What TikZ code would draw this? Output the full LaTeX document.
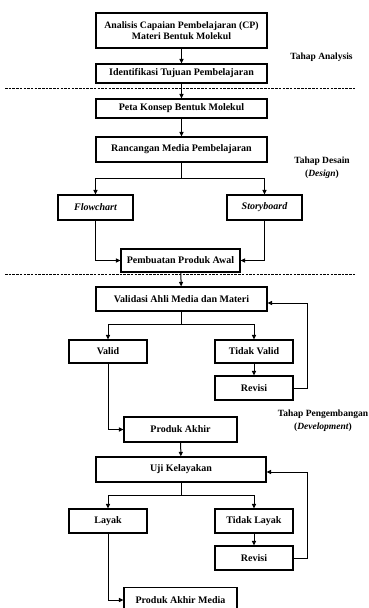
\documentclass[tikz,border=0pt]{standalone}
\usepackage{fontspec}
\setmainfont{Liberation Serif}
\usetikzlibrary{arrows.meta,calc}
\begin{document}
\begin{tikzpicture}[x=1pt,y=-1pt,
  box/.style={draw,line width=1.1pt,inner sep=0pt,align=center,
    font=\fontsize{10}{11}\selectfont\bfseries},
  conn/.style={line width=1pt,-{Triangle[length=4.5pt,width=4pt]}},
  plain/.style={line width=1pt},
  sep/.style={line width=0.8pt,dash pattern=on 2.5pt off 1.2pt},
  lbl/.style={align=center,font=\fontsize{9.5}{13}\selectfont\bfseries}]
\useasboundingbox (0,0) rectangle (369,608);
\clip (0,0) rectangle (369,608);
\fill[white] (0,0) rectangle (369,608);
% boxes
\node[box,minimum width=171pt,minimum height=35pt,font=\fontsize{9.8}{11}\selectfont\bfseries] (a1) at (181.5,30.5) {Analisis Capaian Pembelajaran (CP)\\Materi Bentuk Molekul};
\node[box,minimum width=171pt,minimum height=19pt] (a2) at (181.5,73.5) {Identifikasi Tujuan Pembelajaran};
\node[box,minimum width=171pt,minimum height=19pt] (b1) at (181.5,108.5) {Peta Konsep Bentuk Molekul};
\node[box,minimum width=171pt,minimum height=25pt] (b2) at (181.5,149.5) {Rancangan Media Pembelajaran};
\node[box,minimum width=75pt,minimum height=25pt] (fl) at (95.5,207.5) {\itshape Flowchart};
\node[box,minimum width=75pt,minimum height=25pt] (sb) at (264.5,207.5) {\itshape Storyboard};
\node[box,minimum width=119pt,minimum height=23pt] (pb) at (180.5,260.5) {Pembuatan Produk Awal};
\node[box,minimum width=171pt,minimum height=24pt] (va) at (181.5,299) {Validasi Ahli Media dan Materi};
\node[box,minimum width=78pt,minimum height=23pt] (v) at (108,351.5) {Valid};
\node[box,minimum width=78pt,minimum height=23pt] (tv) at (254,351.5) {Tidak Valid};
\node[box,minimum width=78pt,minimum height=24pt] (r1) at (254,388) {Revisi};
\node[box,minimum width=113pt,minimum height=25pt] (pa) at (180.5,429.5) {Produk Akhir};
\node[box,minimum width=170pt,minimum height=25pt] (uj) at (181,469.5) {Uji Kelayakan};
\node[box,minimum width=78pt,minimum height=24pt] (l) at (108,521) {Layak};
\node[box,minimum width=78pt,minimum height=24pt] (tl) at (254,521) {Tidak Layak};
\node[box,minimum width=78pt,minimum height=24pt] (r2) at (254,558) {Revisi};
\node[box,minimum width=113pt,minimum height=25pt] (pm) at (180.5,600) {Produk Akhir Media};
% labels
\node[lbl] (ta) at (321.5,57) {Tahap Analysis};
\node[lbl] (td) at (322,167.5) {Tahap Desain\\(\textit{Design})};
\node[lbl] (tp) at (323,420.5) {Tahap Pengembangan\\(\textit{Development})};
% separators
\coordinate (s1a) at (5,88); \coordinate (s1b) at (355,88);
\coordinate (s2a) at (5,274); \coordinate (s2b) at (355,274);
\draw[sep] (s1a) -- (s1b);
\draw[sep] (s2a) -- (s2b);
% connectors
\draw[conn] (a1) -- (a2);
\draw[conn] (a2) -- (b1);
\draw[conn] (b1) -- (b2);
\coordinate (k1) at (181.5,178);
\draw[plain] (b2) -- (k1);
\draw[conn] (k1) -| (fl.north);
\draw[conn] (k1) -| (sb.north);
\draw[conn] (fl) |- (pb);
\draw[conn] (sb) |- (pb);
\draw[conn] (pb) -- (va);
\coordinate (k2) at (181.5,324);
\draw[plain] (va) -- (k2);
\draw[conn] (k2) -| (v.north);
\draw[conn] (k2) -| (tv.north);
\draw[conn] (tv) -- (r1);
\coordinate (f1) at (307,303);
\draw[conn] (r1.east) -| (f1) -- ($(va.east)+(0,4)$);
\draw[conn] (v) |- (pa);
\draw[conn] (pa) -- (uj);
\coordinate (k3) at (181,495);
\draw[plain] (uj) -- (k3);
\draw[conn] (k3) -| (l.north);
\draw[conn] (k3) -| (tl.north);
\draw[conn] (tl) -- (r2);
\coordinate (f2) at (307,472);
\draw[conn] (r2.east) -| (f2) -- ($(uj.east)+(0,2.5)$);
\draw[conn] (l) |- (pm);
\end{tikzpicture}
\end{document}
